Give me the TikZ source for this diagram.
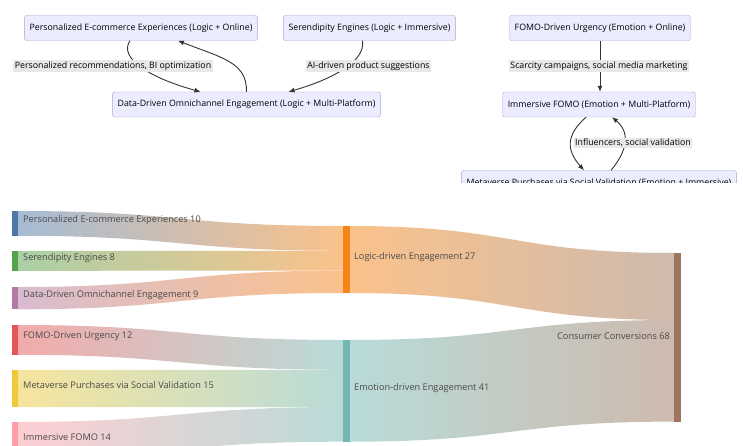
\documentclass[tikz,border=0pt]{standalone}
\usepackage{fontspec}
\setmainfont{Open Sans}
\usetikzlibrary{positioning,arrows.meta}
\definecolor{boxfill}{HTML}{ECECFF}
\definecolor{boxline}{HTML}{A99FD8}
\definecolor{labelbg}{HTML}{E8E8E8}
\definecolor{edgecol}{HTML}{333333}
\definecolor{sktext}{HTML}{4A4A4A}
\definecolor{cpee}{HTML}{4C78A8}
\definecolor{cser}{HTML}{54A24B}
\definecolor{cddo}{HTML}{B279A2}
\definecolor{cfomo}{HTML}{E45756}
\definecolor{cmeta}{HTML}{EECA3B}
\definecolor{cimm}{HTML}{FF9DA6}
\definecolor{clogic}{HTML}{F58518}
\definecolor{cemo}{HTML}{72B7B2}
\definecolor{cconv}{HTML}{9D755D}
\tikzset{
  box/.style={draw=boxline, fill=boxfill, rounded corners=2pt, minimum height=25pt, inner xsep=5pt, font=\fontsize{8.8}{10}\selectfont},
  elabel/.style={fill=labelbg, inner sep=1.5pt, font=\fontsize{8.8}{10}\selectfont},
  edge/.style={draw=edgecol, line width=0.9pt, -{Latex[length=6pt,width=5pt]}},
  sklabel/.style={font=\fontsize{9.2}{10}\selectfont, text=sktext, inner sep=0pt},
}
\begin{document}
\begin{tikzpicture}[x=1pt,y=-1pt]
   \useasboundingbox (0,0) rectangle (743,446);
   \clip (0,0) rectangle (743,446);
   % top flowcharts
   \begin{scope}
   \clip (0,0) rectangle (743,182.5);
   \node[box] (pee) at (141,28) {Personalized E-commerce Experiences (Logic + Online)};
   \node[box] (ser) at (369.5,28) {Serendipity Engines (Logic + Immersive)};
   \node[box] (ddo) at (246.5,104.5) {Data-Driven Omnichannel Engagement (Logic + Multi-Platform)};
   \node[box] (fomo) at (600,28) {FOMO-Driven Urgency (Emotion + Online)};
   \node[box] (imm) at (599,104.5) {Immersive FOMO (Emotion + Multi-Platform)};
   \node[box] (meta) at (599,183) {Metaverse Purchases via Social Validation (Emotion + Immersive)};
   \draw[edge] ([xshift=-11pt]pee.south) .. controls (118,58) and (150,78) .. ([xshift=-46pt]ddo.north);
   \draw[edge] ([xshift=0pt]ddo.north) .. controls (247,62) and (222,58) .. ([xshift=37pt]pee.south);
   \draw[edge] ([xshift=-7pt]ser.south) .. controls (366,62) and (330,80) .. ([xshift=42pt]ddo.north);
   \draw[edge] (fomo.south) -- (fomo.south |- imm.north);
   \draw[edge] ([xshift=-13pt]imm.south) .. controls (566,135) and (566,150) .. ([xshift=-15pt]meta.north);
   \draw[edge] ([xshift=12pt]meta.north) .. controls (628,150) and (630,132) .. ([xshift=13pt]imm.south);
   \node[elabel] (l1) at (113,66) {Personalized recommendations, BI optimization};
   \node[elabel] (l2) at (368.5,66) {AI-driven product suggestions};
   \node[elabel] (l3) at (599,66) {Scarcity campaigns, social media marketing};
   \node[elabel] (l4) at (633,143) {Influencers, social validation};
   \end{scope}
   % sankey flows, left column
   \shade[left color=cpee!50, right color=clogic!50] (18,211) .. controls (180,211) and (180,226) .. (343,226) -- (343,250.8) .. controls (180,250.8) and (180,235.8) .. (18,235.8) -- cycle;
   \shade[left color=cser!50, right color=clogic!50] (18,251) .. controls (180,251) and (180,250.8) .. (343,250.8) -- (343,270.6) .. controls (180,270.6) and (180,270.8) .. (18,270.8) -- cycle;
   \shade[left color=cddo!50, right color=clogic!50] (18,287) .. controls (180,287) and (180,270.6) .. (343,270.6) -- (343,293) .. controls (180,293) and (180,309.3) .. (18,309.3) -- cycle;
   \shade[left color=cfomo!50, right color=cemo!50] (18,325) .. controls (180,325) and (180,340) .. (343,340) -- (343,369.8) .. controls (180,369.8) and (180,354.8) .. (18,354.8) -- cycle;
   \shade[left color=cmeta!50, right color=cemo!50] (18,370) .. controls (180,370) and (180,369.8) .. (343,369.8) -- (343,407) .. controls (180,407) and (180,407.2) .. (18,407.2) -- cycle;
   \shade[left color=cimm!50, right color=cemo!50] (18,422) .. controls (180,422) and (180,407) .. (343,407) -- (343,441.7) .. controls (180,441.7) and (180,456.7) .. (18,456.7) -- cycle;
   % sankey flows, right column
   \shade[left color=clogic!50, right color=cconv!50] (350,226) .. controls (512,226) and (512,253) .. (674,253) -- (674,320) .. controls (512,320) and (512,293) .. (350,293) -- cycle;
   \shade[left color=cemo!50, right color=cconv!50] (350,340) .. controls (512,340) and (512,320) .. (674,320) -- (674,421.6) .. controls (512,421.6) and (512,441.7) .. (350,441.7) -- cycle;
   % sankey bars
   \fill[cpee] (12,211) rectangle (18,235.8);
   \fill[cser] (12,251) rectangle (18,270.8);
   \fill[cddo] (12,287) rectangle (18,309.3);
   \fill[cfomo] (12,325) rectangle (18,354.8);
   \fill[cmeta] (12,370) rectangle (18,407.2);
   \fill[cimm] (12,422) rectangle (18,456.7);
   \fill[clogic] (343,226) rectangle (350,293);
   \fill[cemo] (343,340) rectangle (350,441.7);
   \fill[cconv] (674,253) rectangle (681,421.6);
   % sankey labels
   \node[sklabel, anchor=west] (spee) at (23,220) {Personalized E-commerce Experiences 10};
   \node[sklabel, anchor=west] (sser) at (23,258) {Serendipity Engines 8};
   \node[sklabel, anchor=west] (sddo) at (23,295) {Data-Driven Omnichannel Engagement 9};
   \node[sklabel, anchor=west] (sfomo) at (23,336) {FOMO-Driven Urgency 12};
   \node[sklabel, anchor=west] (smeta) at (23,385) {Metaverse Purchases via Social Validation 15};
   \node[sklabel, anchor=west] (simm) at (23,437) {Immersive FOMO 14};
   \node[sklabel, anchor=west] (slogic) at (354,257) {Logic-driven Engagement 27};
   \node[sklabel, anchor=west] (semo) at (354,388) {Emotion-driven Engagement 41};
   \node[sklabel, anchor=east] (sconv) at (670,336) {Consumer Conversions 68};
\end{tikzpicture}
\end{document}
